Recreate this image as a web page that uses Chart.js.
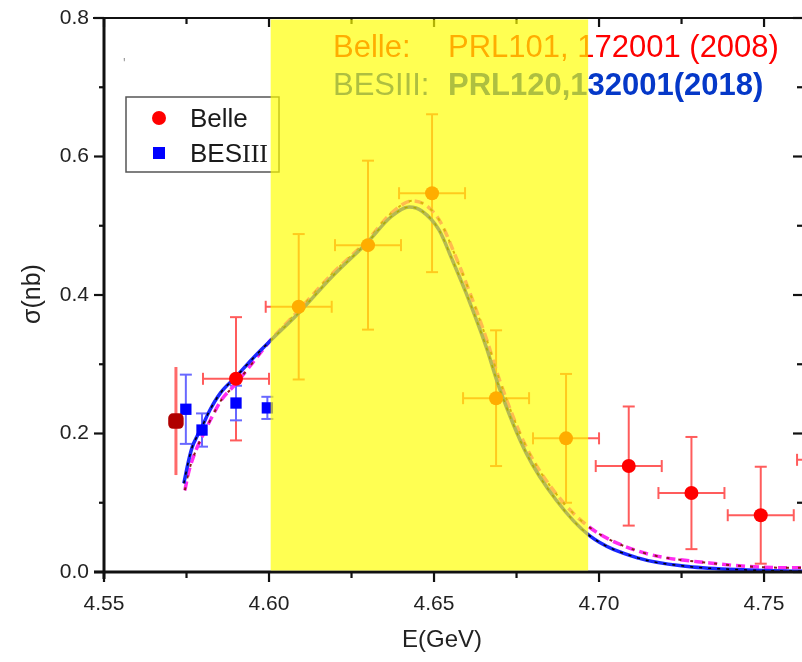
<!DOCTYPE html>
<html>
<head>
<meta charset="utf-8">
<script src="https://cdn.jsdelivr.net/npm/chart.js@4/dist/chart.umd.min.js"></script>
<style>
    html, body { margin: 0; padding: 0; background: #fff; }
    #chart { display: block; }
</style>
</head>
<body>
<canvas id="chart" width="802" height="662"></canvas>
<script>
'use strict';

// axes
var xRange = [4.55, 4.7615],
    yRange = [0, 0.8],
    xTicks = [4.55, 4.60, 4.65, 4.70, 4.75],
    xTickLabels = ['4.55', '4.60', '4.65', '4.70', '4.75'],
    xMinorTicks = [4.575, 4.625, 4.675, 4.725],
    yTicks = [0, 0.2, 0.4, 0.6, 0.8],
    yTickLabels = ['0.0', '0.2', '0.4', '0.6', '0.8'],
    yMinorTicks = [0.1, 0.3, 0.5, 0.7],
    bandRange = [4.6005, 4.6967];

// Belle data (the first point is drawn apart, darker, no caps)
var belleFirstE = [4.5718],
    belleFirstSigma = [0.218],
    belleFirstErr = [0.078],
    belleE = [4.590, 4.609, 4.630, 4.6494, 4.6688, 4.690, 4.709, 4.728, 4.749, 4.770],
    belleSigma = [0.279, 0.383, 0.472, 0.547, 0.251, 0.193, 0.153, 0.114, 0.082, 0.162],
    belleErr = [0.089, 0.105, 0.122, 0.114, 0.098, 0.093, 0.086, 0.081, 0.070, 0.070],
    belleEErr = [0.010, 0.010, 0.010, 0.010, 0.010, 0.010, 0.010, 0.010, 0.010, 0.010];

// BESIII data
var besE = [4.5748, 4.5797, 4.590, 4.5995],
    besSigma = [0.235, 0.205, 0.244, 0.237],
    besErr = [0.050, 0.024, 0.025, 0.016];

// model curves
var modelAE = [4.5742, 4.5755, 4.5767, 4.5782, 4.5797, 4.5821, 4.5852, 4.590, 4.595, 4.600,
               4.609, 4.619, 4.630, 4.637, 4.6425, 4.6464, 4.6515, 4.6555, 4.6597, 4.6658,
               4.6697, 4.6779, 4.687, 4.697, 4.712, 4.727, 4.745, 4.762],
    modelASigma = [0.128, 0.158, 0.180, 0.196, 0.210, 0.234, 0.258, 0.282, 0.308, 0.332,
                   0.374, 0.426, 0.477, 0.513, 0.527, 0.521, 0.494, 0.451, 0.403, 0.325,
                   0.267, 0.172, 0.104, 0.053, 0.020, 0.008, 0.003, 0.001],
    modelBE = [4.5745, 4.5757, 4.577, 4.5785, 4.580, 4.5825, 4.5855, 4.590, 4.595, 4.600,
               4.609, 4.619, 4.630, 4.637, 4.6435, 4.648, 4.652, 4.656, 4.660, 4.666,
               4.670, 4.678, 4.687, 4.697, 4.712, 4.7335, 4.7585, 4.762],
    modelBSigma = [0.118, 0.145, 0.165, 0.183, 0.198, 0.222, 0.248, 0.272, 0.302, 0.332,
                   0.378, 0.430, 0.480, 0.518, 0.536, 0.528, 0.505, 0.462, 0.414, 0.335,
                   0.275, 0.180, 0.113, 0.065, 0.030, 0.013, 0.006, 0.006];

var SANS = "'Liberation Sans', Arial, Helvetica, sans-serif",
    SERIF = "'Liberation Serif', 'Times New Roman', serif";

var toPoints = function (xs, ys) {
        return xs.map(function (x, i) { return { x: x, y: ys[i] }; });
    },

    line = function (ctx, x1, y1, x2, y2) {
        ctx.beginPath();
        ctx.moveTo(x1, y1);
        ctx.lineTo(x2, y2);
        ctx.stroke();
    },

    drawErrors = function (chart, xs, ys, yErr, xErr, style) {
        var ctx = chart.ctx,
            sx = chart.scales.x,
            sy = chart.scales.y;

        ctx.save();
        ctx.strokeStyle = style.color;
        ctx.lineWidth = style.width;
        xs.forEach(function (xv, i) {
            var px = sx.getPixelForValue(xv),
                py = sy.getPixelForValue(ys[i]),
                top = sy.getPixelForValue(ys[i] + yErr[i]),
                bot = sy.getPixelForValue(ys[i] - yErr[i]),
                l, r;

            line(ctx, px, top, px, bot);
            if (style.cap) {
                line(ctx, px - style.cap, top, px + style.cap, top);
                line(ctx, px - style.cap, bot, px + style.cap, bot);
            }
            if (xErr) {
                l = sx.getPixelForValue(xv - xErr[i]);
                r = sx.getPixelForValue(xv + xErr[i]);
                line(ctx, l, py, r, py);
                line(ctx, l, py - style.cap, l, py + style.cap);
                line(ctx, r, py - style.cap, r, py + style.cap);
            }
        });
        ctx.restore();
    },

    errorBarsPlugin = {
        id: 'errorBars',
        beforeDatasetsDraw: function (chart) {
            drawErrors(chart, belleFirstE, belleFirstSigma, belleFirstErr, null,
                { color: '#ff6a6a', width: 3, cap: 0 });
            drawErrors(chart, belleE, belleSigma, belleErr, belleEErr,
                { color: '#ff5c5c', width: 2, cap: 6 });
            drawErrors(chart, besE, besSigma, besErr, null,
                { color: '#6868ff', width: 2, cap: 6 });
        }
    },

    drawFrame = function (chart) {
        var ctx = chart.ctx,
            a = chart.chartArea,
            sx = chart.scales.x,
            sy = chart.scales.y;

        ctx.save();
        ctx.strokeStyle = '#111';
        ctx.lineWidth = 3;
        line(ctx, a.left, a.top - 1, a.left, a.bottom + 7);
        line(ctx, a.left - 10, a.bottom, a.right, a.bottom);
        ctx.lineWidth = 2.2;
        line(ctx, a.left - 11, a.top, a.right, a.top);

        ctx.lineWidth = 2.2;
        xTicks.forEach(function (v) {
            var px = sx.getPixelForValue(v);
            line(ctx, px, a.bottom, px, a.bottom + 10);
            line(ctx, px, a.top, px, a.top + 9);
        });
        xMinorTicks.forEach(function (v) {
            var px = sx.getPixelForValue(v);
            line(ctx, px, a.bottom, px, a.bottom + 6);
            line(ctx, px, a.top, px, a.top + 6);
        });
        yTicks.forEach(function (v) {
            var py = sy.getPixelForValue(v);
            line(ctx, a.left - 10, py, a.left, py);
            line(ctx, a.right - 9, py, a.right, py);
        });
        yMinorTicks.forEach(function (v) {
            var py = sy.getPixelForValue(v);
            line(ctx, a.left - 5, py, a.left, py);
            line(ctx, a.right - 5, py, a.right, py);
        });
        ctx.restore();
    },

    drawTitles = function (chart) {
        var ctx = chart.ctx;

        ctx.save();
        ctx.fillStyle = '#222';
        ctx.textAlign = 'center';
        ctx.textBaseline = 'middle';
        ctx.font = '24px ' + SANS;
        ctx.fillText('E(GeV)', 442, 640);
        ctx.translate(33, 294);
        ctx.rotate(-Math.PI / 2);
        ctx.font = '25px ' + SANS;
        ctx.fillText('\u03c3(nb)', 0, 0);
        ctx.restore();

        ctx.save();
        ctx.fillStyle = '#999';
        ctx.font = '14px ' + SANS;
        ctx.fillText('\'', 123, 68);
        ctx.restore();
    },

    drawLegend = function (chart) {
        var ctx = chart.ctx,
            x;

        ctx.save();
        ctx.fillStyle = '#fff';
        ctx.strokeStyle = '#555';
        ctx.lineWidth = 1.5;
        ctx.fillRect(126, 97, 153, 75);
        ctx.strokeRect(126, 97, 153, 75);

        ctx.fillStyle = '#ff0000';
        ctx.beginPath();
        ctx.arc(159, 118, 7, 0, Math.PI * 2);
        ctx.fill();
        ctx.fillStyle = '#0000ff';
        ctx.fillRect(153, 147, 12, 12);

        ctx.fillStyle = '#1a1a1a';
        ctx.textBaseline = 'alphabetic';
        ctx.font = '26px ' + SANS;
        ctx.fillText('Belle', 190, 127);
        ctx.fillText('BES', 190, 162);
        x = 190 + ctx.measureText('BES').width;
        ctx.font = '26px ' + SERIF;
        ctx.fillText('III', x, 162);
        ctx.restore();
    },

    drawReferences = function (chart) {
        var ctx = chart.ctx;

        ctx.save();
        ctx.textBaseline = 'alphabetic';
        ctx.font = '31px ' + SANS;
        ctx.fillStyle = '#ff0000';
        ctx.fillText('Belle:', 333, 57);
        ctx.fillText('PRL101, 172001 (2008)', 448, 57);
        ctx.fillStyle = '#0538c8';
        ctx.fillText('BESIII:', 333, 95);
        ctx.font = 'bold 31px ' + SANS;
        ctx.fillText('PRL120,132001(2018)', 448, 95);
        ctx.restore();
    },

    drawBand = function (chart) {
        var ctx = chart.ctx,
            a = chart.chartArea,
            sx = chart.scales.x,
            l = sx.getPixelForValue(bandRange[0]),
            r = sx.getPixelForValue(bandRange[1]);

        ctx.save();
        ctx.fillStyle = 'rgba(255, 255, 0, 0.68)';
        ctx.fillRect(l, a.top + 1.5, r - l, a.bottom - a.top - 3);
        ctx.restore();
    },

    overlayPlugin = {
        id: 'overlay',
        afterDraw: function (chart) {
            drawFrame(chart);
            drawTitles(chart);
            drawLegend(chart);
            drawReferences(chart);
            drawBand(chart);
        }
    },

    curve = function (xs, ys, color, width, dash) {
        return {
            data: toPoints(xs, ys),
            showLine: true,
            borderColor: color,
            borderWidth: width,
            borderDash: dash,
            pointRadius: 0,
            cubicInterpolationMode: 'monotone',
            fill: false
        };
    },

    getConfig = function () {
        return {
            type: 'scatter',
            data: {
                datasets: [
                    {
                        data: toPoints(belleFirstE, belleFirstSigma),
                        pointStyle: 'rectRounded',
                        pointRadius: 9,
                        backgroundColor: '#b00000',
                        borderWidth: 0
                    },
                    {
                        data: toPoints(belleE, belleSigma),
                        pointStyle: 'circle',
                        pointRadius: 7,
                        backgroundColor: '#ff0000',
                        borderWidth: 0
                    },
                    {
                        data: toPoints(besE, besSigma),
                        pointStyle: 'rect',
                        pointRadius: 8,
                        backgroundColor: '#0000ff',
                        borderWidth: 0
                    },
                    curve(modelAE, modelASigma, '#000000', 1.5, [3, 6]),
                    curve(modelAE, modelASigma, '#1a28ff', 3.5, []),
                    curve(modelBE, modelBSigma, '#8b1a1a', 2, [3, 9]),
                    curve(modelBE, modelBSigma, '#ff2cf0', 3.5, [9, 5])
                ]
            },
            options: {
                responsive: false,
                animation: false,
                devicePixelRatio: 1,
                events: [],
                layout: {
                    autoPadding: false,
                    padding: { top: 18, right: 0, left: 0, bottom: 0 }
                },
                plugins: {
                    legend: { display: false },
                    tooltip: { enabled: false }
                },
                scales: {
                    x: {
                        type: 'linear',
                        min: xRange[0],
                        max: xRange[1],
                        grid: { display: false, drawTicks: false },
                        border: { display: false },
                        ticks: {
                            font: { family: SANS, size: 21 },
                            color: '#222',
                            padding: 20,
                            maxRotation: 0,
                            autoSkip: false,
                            callback: function (value) {
                                var i = xTicks.indexOf(value);
                                return i < 0 ? '' : xTickLabels[i];
                            }
                        },
                        afterBuildTicks: function (scale) {
                            scale.ticks = xTicks.map(function (v) { return { value: v }; });
                        },
                        afterFit: function (scale) {
                            scale.height = 90;
                            scale.paddingRight = 0;
                            scale.paddingLeft = 0;
                        }
                    },
                    y: {
                        type: 'linear',
                        min: yRange[0],
                        max: yRange[1],
                        grid: { display: false, drawTicks: false },
                        border: { display: false },
                        ticks: {
                            font: { family: SANS, size: 21 },
                            color: '#222',
                            padding: 15,
                            callback: function (value) {
                                var i = yTicks.indexOf(value);
                                return i < 0 ? '' : yTickLabels[i];
                            }
                        },
                        afterBuildTicks: function (scale) {
                            scale.ticks = yTicks.map(function (v) { return { value: v }; });
                        },
                        afterFit: function (scale) {
                            scale.width = 104;
                            scale.paddingTop = 0;
                            scale.paddingBottom = 0;
                        }
                    }
                }
            },
            plugins: [errorBarsPlugin, overlayPlugin]
        };
    };

new Chart(document.getElementById('chart').getContext('2d'), getConfig());
</script>
</body>
</html>
